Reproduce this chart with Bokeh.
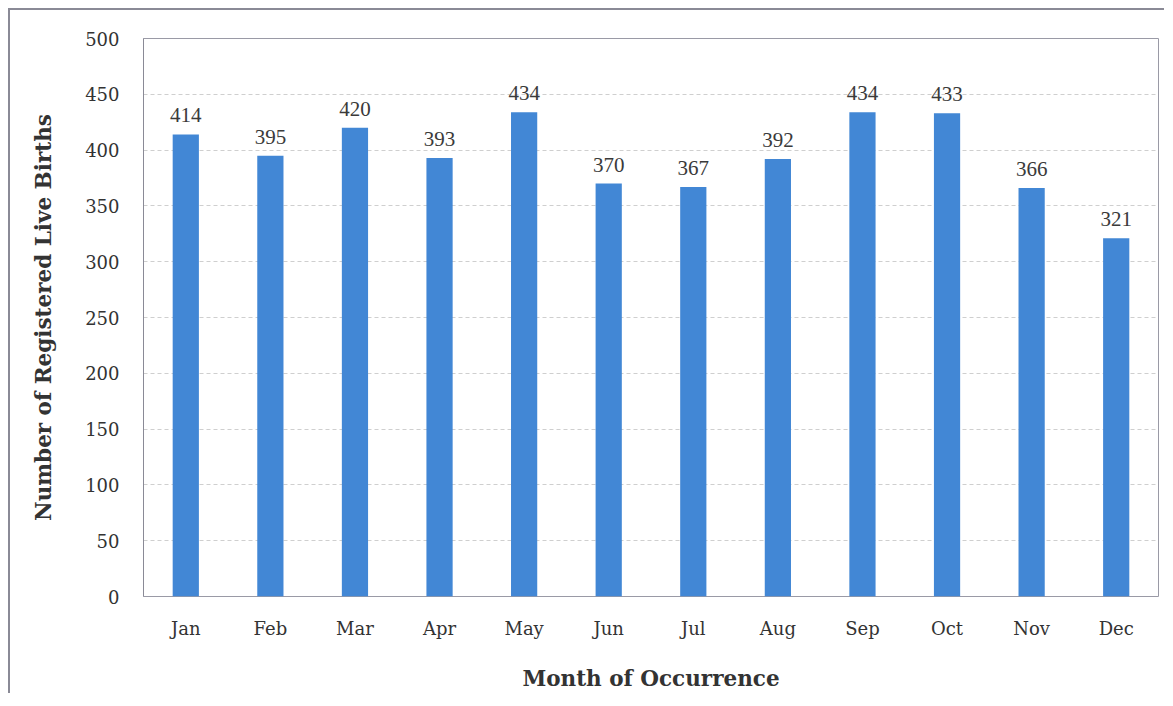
from bokeh.plotting import figure
from bokeh.models import ColumnDataSource, LabelSet, FixedTicker
from bokeh.embed import file_html
from bokeh.resources import INLINE

months = ["Jan", "Feb", "Mar", "Apr", "May", "Jun", "Jul", "Aug", "Sep", "Oct", "Nov", "Dec"]
births = [414, 395, 420, 393, 434, 370, 367, 392, 434, 433, 366, 321]
y_ticks = [0, 50, 100, 150, 200, 250, 300, 350, 400, 450, 500]

FONT = "DejaVu Serif"
TXT = "#333333"

src = ColumnDataSource(dict(month=months, births=births, lab=[str(v) for v in births]))

p = figure(x_range=months, y_range=(0, 500), frame_width=1015, frame_height=558,
           min_border_left=133, min_border_top=28, min_border_bottom=90, min_border_right=6,
           output_backend="svg", toolbar_location=None,
           styles={"margin-left": "8px", "margin-top": "8px",
                   "border-left": "2px solid #8a8a96", "border-top": "2px solid #8a8a96"})

p.vbar(x="month", top="births", width=0.31, source=src, color="#4287d5", line_color=None)

labels = LabelSet(x="month", y="births", text="lab", source=src, text_align="center",
                  text_baseline="bottom", y_offset=12, text_font=FONT, text_font_size="21px",
                  text_color="#3a3a3a")
p.add_layout(labels)

p.yaxis.ticker = FixedTicker(ticks=y_ticks)
p.xgrid.grid_line_color = None
p.ygrid.grid_line_color = "#cfcfcf"
p.ygrid.grid_line_dash = "4 3"
p.outline_line_color = "#9a9aa6"
p.outline_line_width = 1

for ax in (p.xaxis, p.yaxis):
    ax.major_tick_line_color = None
    ax.minor_tick_line_color = None
    ax.major_label_text_font = FONT
    ax.major_label_text_font_size = "18px"
    ax.major_label_text_color = TXT
    ax.axis_label_text_font = FONT
    ax.axis_label_text_font_style = "bold"
    ax.axis_label_text_font_size = "21.5px"
    ax.axis_label_text_color = TXT

p.xaxis.axis_line_color = None
p.yaxis.axis_line_color = "#8a8a96"
p.xaxis.major_label_standoff = 15
p.yaxis.major_label_standoff = 18
p.xaxis.axis_label = "Month of Occurrence"
p.yaxis.axis_label = "Number of Registered Live Births"
p.xaxis.axis_label_standoff = 24
p.yaxis.axis_label_standoff = 26

open("out.html", "w").write(file_html(p, INLINE))
